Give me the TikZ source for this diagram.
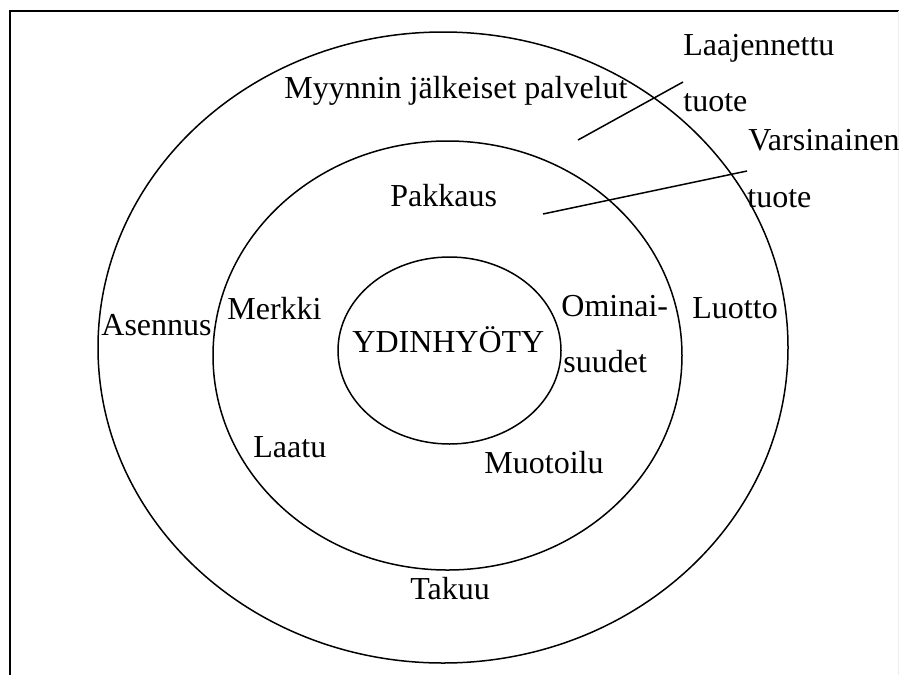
\documentclass[tikz,border=0pt]{standalone}
\usepackage{fontspec}
\setmainfont{Liberation Serif}

\newcommand*{\pw}{899}
\newcommand*{\ph}{675}

\begin{document}
\begin{tikzpicture}
[
	x=0.5pt, y=-0.5pt,
	ring/.style={line width=0.75pt},
	lbl/.style={inner sep=0pt, anchor=base west, font=\fontsize{16pt}{19pt}\selectfont},
	frame/.style={line width=1pt}
]

	\useasboundingbox (0,0) rectangle (\pw,\ph);

	% frame
	\draw[frame] (9.7,\ph) -- (9.7,10.5) -- (\pw,10.5);
	\draw[black!7] (898.3,10.5) -- (898.3,\ph);

	% rings
	\draw[ring] (443,347.5) ellipse [x radius=345, y radius=315.5];
	\draw[ring] (447.5,355.5) ellipse [x radius=234.5, y radius=214.5];
	\draw[ring] (449.5,350.5) ellipse [x radius=111.5, y radius=93.5];

	% texts
	\node[lbl] at (683,55) (laaj) {Laajennettu};
	\node[lbl] at (683,111) (tuote1) {tuote};
	\node[lbl] at (748,150) (vars) {Varsinainen};
	\node[lbl] at (747,207) (tuote2) {tuote};
	\node[lbl] at (284,98) (myynti) {Myynnin jälkeiset palvelut};
	\node[lbl] at (390,206) (pakkaus) {Pakkaus};
	\node[lbl] at (101,335) (asennus) {Asennus};
	\node[lbl] at (227,319) (merkki) {Merkki};
	\node[lbl] at (352,352) (ydin) {YDINHYÖTY};
	\node[lbl] at (561,316) (omin) {Ominai-};
	\node[lbl] at (563,372) (suudet) {suudet};
	\node[lbl] at (692,318) (luotto) {Luotto};
	\node[lbl] at (253,457) (laatu) {Laatu};
	\node[lbl] at (484,473) (muotoilu) {Muotoilu};
	\node[lbl] at (410,599) (takuu) {Takuu};

	% pointers
	\coordinate (p1) at (578,140);
	\coordinate (q1) at (683,82);
	\coordinate (p2) at (543,214);
	\coordinate (q2) at (747,171);
	\draw[ring] (p1) -- (q1);
	\draw[ring] (p2) -- (q2);

\end{tikzpicture}
\end{document}
